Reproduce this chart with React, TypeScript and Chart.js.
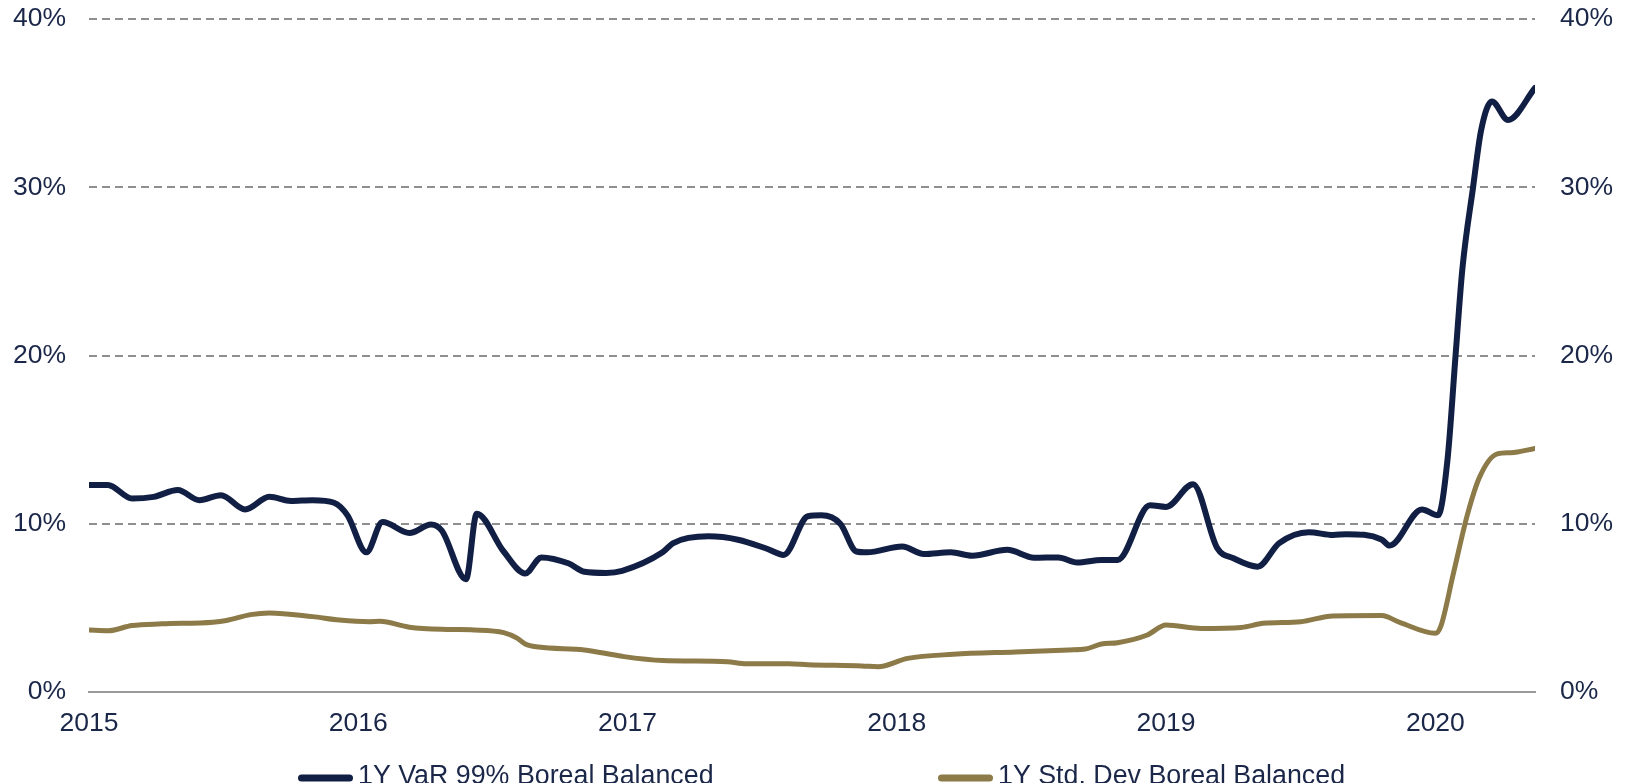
import React, { useEffect, useRef } from "react";
import { Chart, registerables } from "chart.js";

Chart.register(...registerables);

// ---- Data (decimal years, percent values) ----
const varDates = [
  2015.0, 2015.07, 2015.16, 2015.24, 2015.33, 2015.41, 2015.49, 2015.58, 2015.67, 2015.75,
  2015.83, 2015.91, 2015.96, 2016.03, 2016.09, 2016.19, 2016.27, 2016.31, 2016.4, 2016.44,
  2016.54, 2016.62, 2016.68, 2016.78, 2016.84, 2016.92, 2016.98, 2017.13, 2017.17, 2017.3,
  2017.41, 2017.52, 2017.58, 2017.67, 2017.72, 2017.79, 2017.85, 2017.89, 2018.02, 2018.1,
  2018.2, 2018.28, 2018.41, 2018.51, 2018.6, 2018.67, 2018.76, 2018.82, 2018.94, 2019.0,
  2019.1, 2019.19, 2019.25, 2019.34, 2019.42, 2019.53, 2019.62, 2019.67, 2019.8, 2019.83,
  2019.95, 2020.01, 2020.045, 2020.075, 2020.1, 2020.14, 2020.17, 2020.21, 2020.27, 2020.37,
];
const varValues = [
  12.3, 12.3, 11.5, 11.6, 12.0, 11.4, 11.7, 10.85, 11.6, 11.35,
  11.4, 11.25, 10.5, 8.3, 10.1, 9.45, 9.95, 9.6, 6.7, 10.6,
  8.35, 7.05, 8.0, 7.65, 7.15, 7.08, 7.2, 8.3, 8.85, 9.25,
  9.05, 8.5, 8.15, 10.45, 10.5, 10.0, 8.35, 8.3, 8.65, 8.2,
  8.3, 8.1, 8.45, 7.98, 8.0, 7.7, 7.85, 7.85, 11.1, 11.0,
  12.35, 8.55, 7.95, 7.45, 8.85, 9.5, 9.33, 9.38, 9.07, 8.7,
  10.85, 10.5, 13.8, 20.0, 25.1, 30.0, 33.4, 35.1, 34.0, 35.9,
];

const stdDates = [
  2015.0, 2015.07, 2015.16, 2015.27, 2015.46, 2015.51, 2015.6, 2015.67, 2015.83, 2015.93,
  2016.04, 2016.08, 2016.19, 2016.33, 2016.43, 2016.54, 2016.59, 2016.62, 2016.67, 2016.84,
  2016.98, 2017.13, 2017.37, 2017.44, 2017.6, 2017.67, 2017.87, 2017.93, 2018.04, 2018.21,
  2018.44, 2018.64, 2018.7, 2018.76, 2018.82, 2018.93, 2019.0, 2019.13, 2019.28, 2019.36,
  2019.5, 2019.62, 2019.8, 2019.87, 2020.0, 2020.02, 2020.067, 2020.12, 2020.165, 2020.23,
  2020.28, 2020.37,
];
const stdValues = [
  3.68, 3.64, 3.95, 4.05, 4.15, 4.25, 4.6, 4.7, 4.48, 4.28,
  4.18, 4.2, 3.85, 3.72, 3.69, 3.53, 3.2, 2.85, 2.67, 2.5,
  2.12, 1.87, 1.8, 1.68, 1.68, 1.62, 1.55, 1.5, 2.0, 2.24,
  2.38, 2.5, 2.55, 2.85, 2.93, 3.39, 3.98, 3.78, 3.84, 4.08,
  4.18, 4.52, 4.54, 4.12, 3.49, 3.9, 7.05, 10.6, 12.8, 14.15,
  14.22, 14.48,
];

const yearTicks = [2015, 2016, 2017, 2018, 2019, 2020];
const percentTicks = [0, 10, 20, 30, 40];
const seriesLabels = ["1Y VaR 99% Boreal Balanced", "1Y Std. Dev Boreal Balanced"];
const seriesColors = ["#121f45", "#8c7a48"];
const xMin = 2015;
const xMax = 2020.37;

const TEXT_COLOR = "#1b2749";
const FONT_FAMILY = '"Liberation Sans", Arial, sans-serif';
const TRANSPARENT = "rgba(0,0,0,0)";

const bottomLegend = {
  id: "bottomLegend",
  afterDraw(chart: any) {
    const ctx = chart.ctx;
    const area = chart.chartArea;
    ctx.save();
    ctx.font = `26.8px ${FONT_FAMILY}`;
    const lineLen = 55;
    const textGap = 5;
    const starts = [area.left + 209, area.left + 849];
    const lineY = area.bottom + 86;
    const textY = area.bottom + 92;
    chart.data.datasets.forEach((ds: any, i: number) => {
      const x = starts[i];
      ctx.strokeStyle = ds.borderColor;
      ctx.lineWidth = 7;
      ctx.lineCap = "round";
      ctx.beginPath();
      ctx.moveTo(x + 3.5, lineY);
      ctx.lineTo(x + lineLen - 3.5, lineY);
      ctx.stroke();
      ctx.fillStyle = TEXT_COLOR;
      ctx.textAlign = "left";
      ctx.textBaseline = "alphabetic";
      ctx.fillText(ds.label, x + lineLen + textGap, textY);
    });
    ctx.restore();
  },
};

export default function App() {
  const canvasRef = useRef<HTMLCanvasElement | null>(null);

  useEffect(() => {
    document.documentElement.style.overflow = "hidden";
    document.body.style.overflow = "hidden";
    const canvas = canvasRef.current;
    if (!canvas) return;

    const tickFont = { family: FONT_FAMILY, size: 26.5, lineHeight: 0.8 };

    const chart = new Chart(canvas, {
      type: "line",
      data: {
        datasets: [
          {
            label: seriesLabels[0],
            data: varDates.map((d, i) => ({ x: d, y: varValues[i] })),
            borderColor: seriesColors[0],
            backgroundColor: seriesColors[0],
            borderWidth: 6,
            pointRadius: 0,
            cubicInterpolationMode: "monotone",
            borderCapStyle: "round",
            borderJoinStyle: "round",
            fill: false,
            yAxisID: "y",
          },
          {
            label: seriesLabels[1],
            data: stdDates.map((d, i) => ({ x: d, y: stdValues[i] })),
            borderColor: seriesColors[1],
            backgroundColor: seriesColors[1],
            borderWidth: 5,
            pointRadius: 0,
            cubicInterpolationMode: "monotone",
            borderCapStyle: "round",
            borderJoinStyle: "round",
            fill: false,
            yAxisID: "y",
          },
        ],
      },
      options: {
        responsive: false,
        animation: false,
        devicePixelRatio: 1,
        layout: { padding: { top: 11, left: 0, right: 0, bottom: 0 } },
        plugins: {
          legend: { display: false },
          tooltip: { enabled: false },
        },
        scales: {
          x: {
            type: "linear",
            min: xMin,
            max: xMax,
            afterBuildTicks: (s: any) => {
              s.ticks = yearTicks.map((v) => ({ value: v }));
            },
            afterFit: (s: any) => {
              s.height = 91;
            },
            ticks: {
              includeBounds: false,
              autoSkip: false,
              maxRotation: 0,
              padding: 16,
              color: TEXT_COLOR,
              font: { family: FONT_FAMILY, size: 26.5 },
              callback: (v: any) => String(v),
            },
            grid: { display: false, drawTicks: false },
            border: { display: true, color: "#9a9a9a", width: 2 },
          },
          y: {
            position: "left",
            min: 0,
            max: 40,
            afterBuildTicks: (s: any) => {
              s.ticks = percentTicks.map((v) => ({ value: v }));
            },
            afterFit: (s: any) => {
              s.width = 81;
            },
            ticks: {
              padding: 0,
              color: TEXT_COLOR,
              font: tickFont,
              callback: (v: any) => `${v}%`,
            },
            grid: {
              color: "#8f8f8f",
              lineWidth: 2,
              drawTicks: true,
              tickLength: 23,
              tickColor: TRANSPARENT,
              tickWidth: 0,
            },
            border: { display: false, dash: [8, 5] },
          },
          y2: {
            position: "right",
            display: true,
            min: 0,
            max: 40,
            afterBuildTicks: (s: any) => {
              s.ticks = percentTicks.map((v) => ({ value: v }));
            },
            afterFit: (s: any) => {
              s.width = 83;
            },
            ticks: {
              padding: 0,
              color: TEXT_COLOR,
              font: tickFont,
              callback: (v: any) => `${v}%`,
            },
            grid: {
              display: true,
              drawOnChartArea: false,
              drawTicks: true,
              tickLength: 25,
              tickColor: TRANSPARENT,
              tickWidth: 0,
              color: TRANSPARENT,
            },
            border: { display: false },
          },
        },
      },
      plugins: [bottomLegend],
    } as any);

    return () => chart.destroy();
  }, []);

  return (
    <div style={{ width: 1610, height: 775 }}>
      <canvas ref={canvasRef} width={1610} height={775} style={{ display: "block" }} />
    </div>
  );
}
